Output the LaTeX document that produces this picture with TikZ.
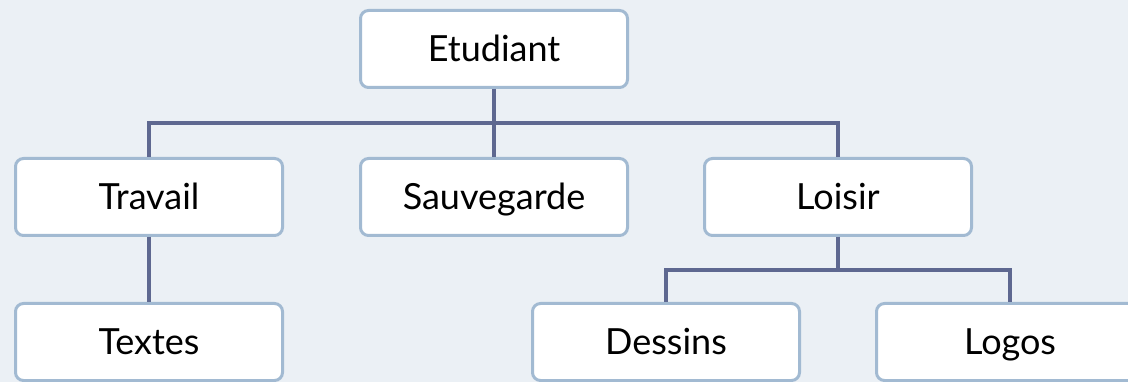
\documentclass[tikz,border=0pt]{standalone}
\usepackage{fontspec}
\setmainfont{Lato}
\definecolor{bg}{HTML}{EBF0F5}
\definecolor{boxborder}{HTML}{A2BAD2}
\definecolor{linkcol}{HTML}{5E6890}
\tikzset{
  orgbox/.style={draw=boxborder, line width=3pt, fill=white, rounded corners=8pt,
    minimum width=267pt, minimum height=77pt, inner sep=0pt,
    text height=26pt, text depth=0pt,
    font=\fontsize{36}{42}\selectfont},
  link/.style={draw=linkcol, line width=3.5pt}
}
\begin{document}
\begin{tikzpicture}[x=1pt,y=-1pt]
\useasboundingbox (0,0) rectangle (1128,382);
\clip (0,0) rectangle (1128,382);
\fill[bg] (0,0) rectangle (1128,382);
\coordinate (h1) at (0,123);
\coordinate (h2) at (0,270);
\node[orgbox] (etu) at (494,49) {Etudiant};
\node[orgbox] (tra) at (149,197) {Travail};
\node[orgbox] (sau) at (494,197) {Sauvegarde};
\node[orgbox] (loi) at (838,197) {Loisir};
\node[orgbox] (tex) at (149,342) {Textes};
\node[orgbox] (des) at (666,342) {Dessins};
\node[orgbox] (log) at (1010,342) {Logos};
\draw[link] (etu.south) -- (sau.north);
\draw[link] (tra.north) -- (tra.north |- h1) -- (loi.north |- h1) -- (loi.north);
\draw[link] (tra.south) -- (tex.north);
\draw[link] (loi.south) -- (loi.south |- h2);
\draw[link] (des.north) -- (des.north |- h2) -- (log.north |- h2) -- (log.north);
\end{tikzpicture}
\end{document}
